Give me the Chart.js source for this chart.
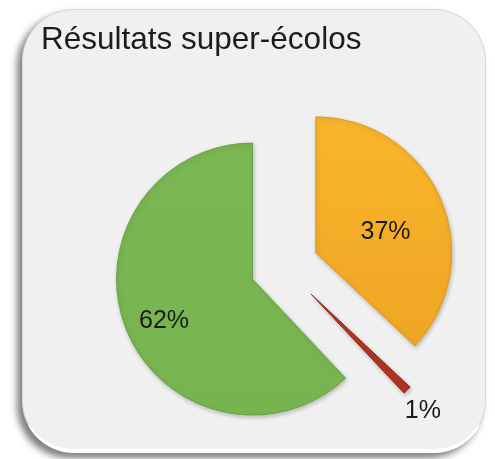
<!DOCTYPE html>
<html lang="fr">
<head>
<meta charset="utf-8">
<title>Résultats super-écolos</title>
<script src="https://cdn.jsdelivr.net/npm/chart.js@4.4.1/dist/chart.umd.min.js"></script>
<style>
  html, body { margin: 0; padding: 0; background: #ffffff; }
  #wrap { position: relative; width: 495px; height: 459px; overflow: hidden; }
  #card {
    position: absolute; left: 22px; top: 9px; width: 464px; height: 444px;
    box-sizing: border-box; border-radius: 52px;
    background: #f0f0f0;
    border: 1px solid #d8d8d8; border-bottom: 4px solid #ffffff;
    box-shadow: -5px 5px 7px rgba(0,0,0,0.5);
  }
  #c { position: absolute; left: 0; top: 0; }
</style>
</head>
<body>
<div id="wrap">
  <div id="card"></div>
  <canvas id="c" width="540" height="459"></canvas>
</div>
<script>
// ---- data ----
const titleText = 'Résultats super-écolos';
const categories = ['Jaune', 'Rouge', 'Vert'];
const values = [37, 1, 62];
const valueLabels = ['37%', '1%', '62%'];

// ---- style ----
const fillTop = ['#fbb72d', '#c8412f', '#7bb853'];
const fillBottom = ['#eba121', '#a8301f', '#77b44f'];
const edgeColors = ['#e39a1c', '#9a2a1c', '#68a544'];
const explode = [35, 38.6, 33.5];          // explosion distance (px) per slice
const labelRadius = [0.535, 1.19, 0.722];  // label distance, fraction of radius
const labelNudgeDeg = [6.8, 1.3, -4];      // label angle nudge

function sliceFill(ctx) {
  const i = ctx.dataIndex;
  if (i === undefined) return fillTop[0];
  const g = ctx.chart.ctx.createLinearGradient(0, 110, 0, 420);
  g.addColorStop(0, fillTop[i]);
  g.addColorStop(1, fillBottom[i]);
  return g;
}

const explodePlugin = {
  id: 'explodeSlices',
  beforeDatasetDraw(chart, args) {
    const ctx = chart.ctx;
    args.meta.data.forEach((arc, i) => {
      const mid = (arc.startAngle + arc.endAngle) / 2;
      const d = explode[i];
      ctx.save();
      ctx.translate(Math.cos(mid) * d, Math.sin(mid) * d);
      ctx.shadowColor = 'rgba(0,0,0,0.22)';
      ctx.shadowBlur = 4;
      ctx.shadowOffsetX = 1;
      ctx.shadowOffsetY = 2;
      arc.draw(ctx);
      ctx.restore();
    });
    return false;
  }
};

const labelPlugin = {
  id: 'sliceLabels',
  afterDatasetsDraw(chart) {
    const ctx = chart.ctx;
    const meta = chart.getDatasetMeta(0);
    ctx.save();
    ctx.font = '25px "Liberation Sans", Arial, sans-serif';
    ctx.fillStyle = '#1b1b1b';
    ctx.textAlign = 'center';
    ctx.textBaseline = 'middle';
    meta.data.forEach((arc, i) => {
      const mid = (arc.startAngle + arc.endAngle) / 2;
      const cx = arc.x + Math.cos(mid) * explode[i];
      const cy = arc.y + Math.sin(mid) * explode[i];
      const a = mid + labelNudgeDeg[i] * Math.PI / 180;
      const r = labelRadius[i] * arc.outerRadius;
      ctx.fillText(valueLabels[i], cx + Math.cos(a) * r, cy + Math.sin(a) * r);
    });
    ctx.restore();
  }
};

new Chart(document.getElementById('c'), {
  type: 'pie',
  data: {
    labels: categories,
    datasets: [{
      data: values,
      backgroundColor: sliceFill,
      borderColor: edgeColors,
      borderWidth: 1
    }]
  },
  options: {
    responsive: false,
    animation: false,
    devicePixelRatio: 1,
    radius: 136,
    layout: { padding: { left: 41, right: 13.6, top: 0, bottom: 10 } },
    plugins: {
      legend: { display: false },
      tooltip: { enabled: false },
      title: {
        display: true,
        text: titleText,
        align: 'start',
        color: '#1c1c1c',
        font: { family: '"Liberation Sans", Arial, sans-serif', size: 31.5, weight: 'normal', lineHeight: 1.2 },
        padding: { top: 21, bottom: 25.6 }
      }
    }
  },
  plugins: [explodePlugin, labelPlugin]
});
</script>
</body>
</html>
